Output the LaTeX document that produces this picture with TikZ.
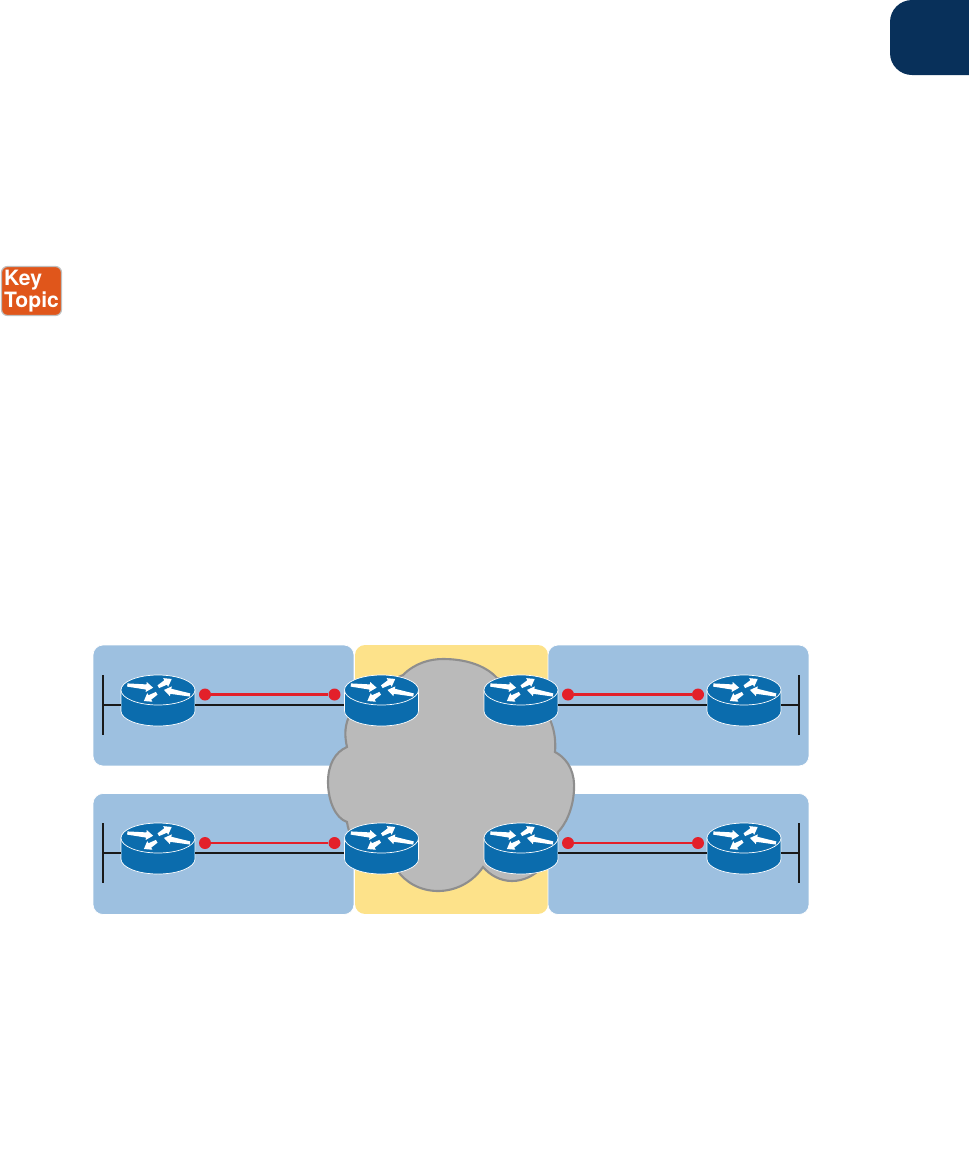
\documentclass[tikz,border=0pt]{standalone}
\usepackage{fontspec}
\setmainfont{TeX Gyre Heros}
\usetikzlibrary{positioning, arrows.meta}
\definecolor{lanblue}{HTML}{9DC0E0}
\definecolor{wanyellow}{HTML}{FDE28A}
\definecolor{cloudgray}{HTML}{BABABA}
\definecolor{cloudedge}{HTML}{8E8E8E}
\definecolor{routerblue}{HTML}{0B6CAD}
\definecolor{linkred}{HTML}{E3202A}
\definecolor{keyorange}{HTML}{E0561B}
\definecolor{tabnavy}{HTML}{08305A}
\newcommand{\routerarrow}[4]{\fill[white, shift={(#1,#2)}, rotate=#3] (0,-1.6) -- (#4-7,-2.6) -- (#4-7,-5) -- (#4,0) -- (#4-7,5) -- (#4-7,2.6) -- (0,1.6) -- cycle;}

\begin{document}
\begin{tikzpicture}[
    x=0.02cm, y=-0.02cm,
    lan/.style={fill=lanblue, draw=white, line width=0.4pt, rounded corners=0.2cm, minimum width=5.22cm, minimum height=2.42cm, inner sep=0pt},
    wan/.style={fill=wanyellow, rounded corners=0.2cm, minimum width=3.86cm, minimum height=5.38cm, inner sep=0pt},
    dot/.style={circle, fill=linkred, minimum size=0.24cm, inner sep=0pt},
    redlink/.style={draw=linkred, line width=1.2pt},
    blacklink/.style={draw=black!90, line width=1.2pt},
    bus/.style={draw=black!90, line width=1.2pt},
    pics/router/.style={code={
        \fill[routerblue, draw=white, line width=0.4pt] (-37,0) -- (-37,21) arc[start angle=180, end angle=0, x radius=37, y radius=15] -- (37,0) -- cycle;
        \fill[routerblue, draw=white, line width=0.4pt] (0,0) ellipse[x radius=37, y radius=15];
        \routerarrow{-30.7}{-5}{-6}{26}
        \routerarrow{0.3}{-3.3}{30}{15.5}
        \routerarrow{32}{5}{169}{26.5}
        \routerarrow{-1.3}{3.3}{211}{15}
        \node[minimum width=1.48cm, minimum height=0cm, inner sep=0pt] (-port) at (0,15) {};
    }}
]
\useasboundingbox (0,0) rectangle (969,1174);

% Page tab
\fill[tabnavy] (969,0) -- (912,0) arc[start angle=270, end angle=180, radius=22] -- (890,53) arc[start angle=180, end angle=90, radius=22] -- (969,75) -- cycle;

% Key Topic
\node[fill=keyorange, draw=black!25, line width=0.7pt, rounded corners=0.12cm, minimum width=1.2cm, minimum height=0.98cm, inner sep=0pt, text=white, align=left, font=\fontsize{12}{9.8}\selectfont\bfseries] (key) at (31.5,291) {Key\\Topic};

% Panels
\node[wan] (wan) at (451.5,779.5) {};
\node[lan] (lan1) at (223.5,705.5) {};
\node[lan] (lan2) at (678.5,705.5) {};
\node[lan] (lan3) at (223.5,854) {};
\node[lan] (lan4) at (678.5,854) {};

% Cloud
\draw[fill=cloudgray, draw=cloudedge, line width=1.2pt] (347,747)
    .. controls (342,725) and (345,700) .. (403,675)
    .. controls (415,663) and (430,659) .. (443,659)
    .. controls (465,659) and (485,665) .. (497,678)
    .. controls (535,690) and (558,715) .. (555,752)
    .. controls (570,760) and (575,775) .. (574,790)
    .. controls (573,810) and (565,825) .. (558,832)
    .. controls (555,860) and (535,881) .. (512,881)
    .. controls (500,881) and (490,875) .. (483,867)
    .. controls (472,883) and (455,891) .. (438,891)
    .. controls (420,891) and (405,882) .. (397,870)
    .. controls (370,865) and (350,845) .. (347,822)
    .. controls (335,818) and (328,800) .. (328,782)
    .. controls (328,765) and (335,752) .. (347,747) -- cycle;

% Routers
\pic (r1) at (158,690) {router};
\pic (r2) at (381.5,690) {router};
\pic (r3) at (521,690) {router};
\pic (r4) at (744,690) {router};
\pic (r5) at (158,838) {router};
\pic (r6) at (381.5,838) {router};
\pic (r7) at (521,838) {router};
\pic (r8) at (744,838) {router};

% Links
\draw[blacklink] (r1-port.east) -- (r2-port.west);
\draw[blacklink] (r3-port.east) -- (r4-port.west);
\draw[blacklink] (r5-port.east) -- (r6-port.west);
\draw[blacklink] (r7-port.east) -- (r8-port.west);

% Red segments
\node[dot] (d1) at (205,694.5) {};
\node[dot] (d2) at (334.5,694.5) {};
\node[dot] (d3) at (568,694.5) {};
\node[dot] (d4) at (698,694.5) {};
\node[dot] (d5) at (205,843) {};
\node[dot] (d6) at (334.5,843) {};
\node[dot] (d7) at (568,843) {};
\node[dot] (d8) at (698,843) {};
\draw[redlink] (d1) -- (d2);
\draw[redlink] (d3) -- (d4);
\draw[redlink] (d5) -- (d6);
\draw[redlink] (d7) -- (d8);

% LAN buses
\coordinate (b1t) at (103,675);
\coordinate (b1b) at (103,735);
\coordinate (b2t) at (799,675);
\coordinate (b2b) at (799,735);
\coordinate (b3t) at (103,823);
\coordinate (b3b) at (103,883);
\coordinate (b4t) at (799,823);
\coordinate (b4b) at (799,883);
\draw[bus] (b1t) -- (b1b);
\draw[bus] (b2t) -- (b2b);
\draw[bus] (b3t) -- (b3b);
\draw[bus] (b4t) -- (b4b);
\draw[blacklink] (r1-port.west) -- (r1-port.west -| b1t);
\draw[blacklink] (r4-port.east) -- (r4-port.east -| b2t);
\draw[blacklink] (r5-port.west) -- (r5-port.west -| b3t);
\draw[blacklink] (r8-port.east) -- (r8-port.east -| b4t);

\end{tikzpicture}
\end{document}
